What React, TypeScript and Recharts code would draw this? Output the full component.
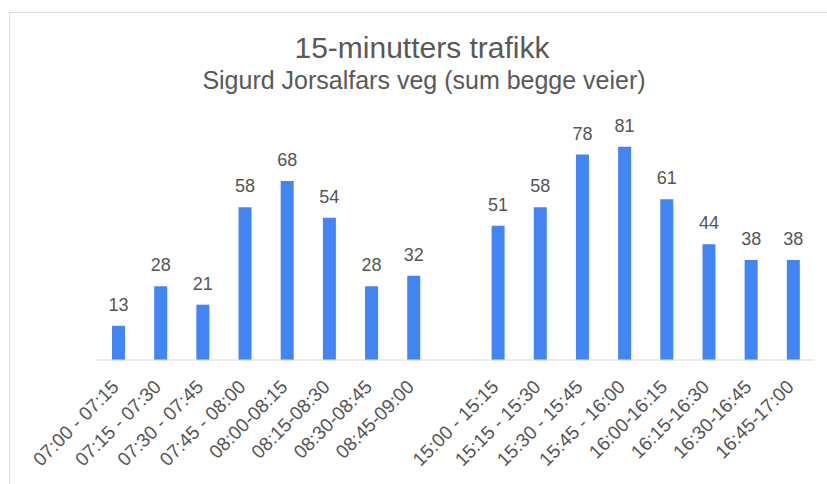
import React from "react";
import { BarChart, Bar, XAxis, YAxis, LabelList } from "recharts";

const categories = [
  "07:00 - 07:15", "07:15 - 07:30", "07:30 - 07:45", "07:45 - 08:00",
  "08:00-08:15", "08:15-08:30", "08:30-08:45", "08:45-09:00",
  "",
  "15:00 - 15:15", "15:15 - 15:30", "15:30 - 15:45", "15:45 - 16:00",
  "16:00-16:15", "16:15-16:30", "16:30-16:45", "16:45-17:00",
];
const values: (number | null)[] = [13, 28, 21, 58, 68, 54, 28, 32, null, 51, 58, 78, 81, 61, 44, 38, 38];

const data = categories.map((c, i) => ({ name: c, value: values[i] }));

const FONT = "'Liberation Sans', Arial, sans-serif";

const Tick = (props: any) => {
  const { x, y, payload } = props;
  const ax = x + 2;
  const ay = y + 20;
  return (
    <text
      x={ax}
      y={ay}
      transform={`rotate(-45, ${ax}, ${ay})`}
      textAnchor="end"
      fontSize={19}
      fontFamily={FONT}
      fill="#555"
    >
      {payload.value}
    </text>
  );
};

const Label = (props: any) => {
  const { x, y, width, value } = props;
  if (value == null) return null;
  return (
    <text x={x + width / 2} y={y - 15} textAnchor="middle" fontSize={18} fontFamily={FONT} fill="#555">
      {value}
    </text>
  );
};

export default function App() {
  return (
    <div style={{ position: "absolute", left: 0, top: 0, width: 827, height: 484, background: "#fff" }}>
      <div style={{ position: "absolute", left: 9, top: 12, width: 818, height: 472, borderLeft: "1px solid #ddd", borderTop: "1px solid #ddd" }} />
      <div style={{ position: "absolute", left: 0, top: 0 }}>
        <BarChart width={827} height={484} data={data} margin={{ top: 123, right: 13, bottom: 14, left: 97 }} barCategoryGap={0}>
          <text x={422} y={58} textAnchor="middle" fontSize={30} fontFamily={FONT} fill="#595959">15-minutters  trafikk</text>
          <text x={424} y={89} textAnchor="middle" fontSize={25} fontFamily={FONT} fill="#595959">Sigurd Jorsalfars veg (sum begge veier)</text>
          <XAxis dataKey="name" interval={0} tickLine={false} axisLine={{ stroke: "#d9d9d9" }} tick={<Tick />} height={110} />
          <YAxis hide domain={[0, 90]} />
          <Bar dataKey="value" fill="#4285F4" barSize={13} isAnimationActive={false}>
            <LabelList dataKey="value" content={<Label />} />
          </Bar>
        </BarChart>
      </div>
    </div>
  );
}
